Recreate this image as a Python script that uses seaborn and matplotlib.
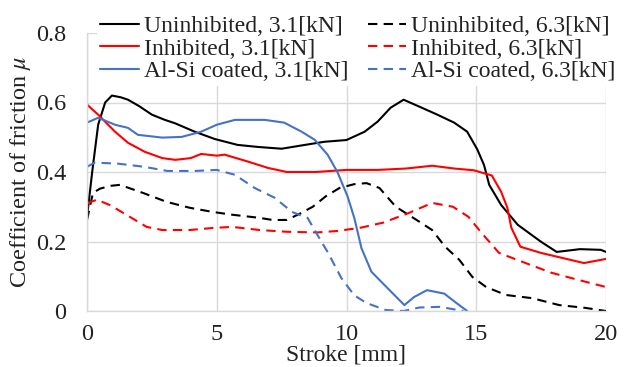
import numpy as np
import pandas as pd
import matplotlib
matplotlib.use("Agg")
import matplotlib.pyplot as plt
import seaborn as sns

# ---- data ----
un31_x = [0.0, 0.2, 0.43, 0.7, 0.96, 1.3, 1.58, 2.0, 2.5, 3.0, 3.4, 4.15, 4.92, 5.8, 6.6, 7.5, 8.4, 9.15, 10.0,
          10.7, 11.2, 11.7, 12.2, 12.9, 13.5, 14.15, 14.65, 15.04, 15.3, 15.5, 15.96, 16.6, 17.5, 18.1, 19.0, 19.8, 20.0]
un31_y = [0.27, 0.40, 0.536, 0.60, 0.62, 0.615, 0.608, 0.59, 0.565, 0.55, 0.54, 0.516, 0.495, 0.478, 0.472, 0.467, 0.478, 0.487, 0.492,
          0.516, 0.545, 0.585, 0.608, 0.585, 0.565, 0.542, 0.516, 0.465, 0.42, 0.363, 0.305, 0.248, 0.199, 0.17, 0.178, 0.176, 0.17]

in31_x = [0.0, 0.43, 1.08, 1.58, 2.23, 2.9, 3.4, 4.0, 4.4, 5.0, 5.3, 6.2, 6.96, 7.7, 8.8, 10.0, 11.2, 12.3, 13.3, 14.15, 14.9,
          15.6, 15.96, 16.2, 16.35, 16.7, 17.5, 18.3, 19.15, 19.8, 20.0]
in31_y = [0.594, 0.565, 0.516, 0.484, 0.458, 0.44, 0.435, 0.44, 0.452, 0.447, 0.45, 0.43, 0.412, 0.40, 0.40, 0.406, 0.406, 0.41, 0.418, 0.41, 0.405,
          0.39, 0.343, 0.297, 0.24, 0.185, 0.167, 0.153, 0.138, 0.147, 0.15]

al31_x = [0.0, 0.43, 1.08, 1.58, 1.96, 2.9, 3.65, 4.4, 5.0, 5.7, 6.85, 7.6, 8.27, 8.77, 9.27, 9.65, 10.04, 10.3, 10.58, 10.96, 11.46,
          12.23, 12.6, 13.1, 13.77, 14.2, 14.65]
al31_y = [0.542, 0.556, 0.536, 0.527, 0.507, 0.499, 0.501, 0.516, 0.536, 0.55, 0.55, 0.542, 0.516, 0.493, 0.45, 0.40, 0.33, 0.268, 0.18, 0.113, 0.075,
          0.017, 0.04, 0.06, 0.05, 0.025, 0.0]

un63_x = [0.0, 0.23, 0.5, 0.88, 1.27, 2.15, 3.07, 3.96, 4.85, 5.6, 6.65, 7.15, 7.7, 8.2, 8.7, 9.2, 9.73, 10.3, 10.77, 11.27, 11.9, 12.7, 13.3,
          13.8, 14.35, 14.85, 15.38, 16.15, 17.15, 18.2, 19.2, 20.0]
un63_y = [0.262, 0.34, 0.352, 0.36, 0.363, 0.34, 0.314, 0.297, 0.285, 0.277, 0.268, 0.262, 0.262, 0.28, 0.30, 0.33, 0.354, 0.365, 0.368, 0.354, 0.30, 0.262, 0.233,
          0.185, 0.147, 0.098, 0.069, 0.046, 0.037, 0.017, 0.009, 0.0]

in63_x = [0.0, 0.38, 0.88, 1.65, 2.3, 2.9, 3.96, 4.85, 5.6, 6.65, 7.7, 8.85, 9.6, 10.5, 11.4, 12.4, 13.3, 14.1, 14.7, 15.2, 15.88, 16.9, 17.9, 18.96, 20.0]
in63_y = [0.31, 0.32, 0.305, 0.271, 0.242, 0.233, 0.233, 0.239, 0.242, 0.233, 0.228, 0.226, 0.23, 0.239, 0.254, 0.282, 0.311, 0.30, 0.271, 0.225, 0.167, 0.138, 0.11, 0.089, 0.069]

al63_x = [0.0, 0.3, 1.2, 2.2, 3.1, 4.15, 5.0, 5.7, 6.46, 7.23, 7.9, 8.5, 8.88, 9.27, 9.8, 10.3, 10.77, 11.5, 12.2, 12.8, 13.6, 14.5]
al63_y = [0.415, 0.427, 0.424, 0.415, 0.403, 0.403, 0.406, 0.392, 0.354, 0.326, 0.285, 0.268, 0.219, 0.17, 0.095, 0.045, 0.023, 0.003, 0.0, 0.01, 0.012, 0.0]

labels = ["Uninhibited, 3.1[kN]", "Inhibited, 3.1[kN]", "Al-Si coated, 3.1[kN]",
          "Uninhibited, 6.3[kN]", "Inhibited, 6.3[kN]", "Al-Si coated, 6.3[kN]"]
xs = [un31_x, in31_x, al31_x, un63_x, in63_x, al63_x]
ys = [un31_y, in31_y, al31_y, un63_y, in63_y, al63_y]
colors = ["#000000", "#ff0000", "#4472c4", "#000000", "#ff0000", "#4472c4"]
dashed = [False, False, False, True, True, True]

x_ticks = [0, 5, 10, 15, 20]
y_ticks = [0, 0.2, 0.4, 0.6, 0.8]
y_tick_labels = ["0", "0.2", "0.4", "0.6", "0.8"]

# ---- plot ----
sns.set_theme(style="white")
plt.rcParams["font.family"] = ["Liberation Serif", "DejaVu Serif"]
plt.rcParams["mathtext.fontset"] = "stix"

fig = plt.figure(figsize=(6.34, 3.67), dpi=100)
ax = fig.add_axes([87 / 634, (367 - 311) / 367, (606 - 87) / 634, (311 - 33) / 367])

for lab, x, y, c, d in zip(labels, xs, ys, colors, dashed):
    df = pd.DataFrame({"x": x, "y": y})
    sns.lineplot(data=df, x="x", y="y", ax=ax, color=c, lw=1.5, label=lab, sort=False,
                 linestyle=(0, (4.5, 3)) if d else "-")

ax.set_xlim(0, 20)
ax.set_ylim(0, 0.8)
ax.set_xticks(x_ticks)
ax.set_xticklabels([str(t) for t in x_ticks])
ax.set_yticks(y_ticks)
ax.set_yticklabels(y_tick_labels)
ax.tick_params(axis="both", length=0, labelsize=17.5, colors="#222222")
ax.tick_params(axis="y", pad=15)
ax.tick_params(axis="x", pad=9)
ax.grid(True, color="#d9d9d9", lw=1.0)
ax.set_axisbelow(True)
for s in ["top", "right"]:
    ax.spines[s].set_visible(False)
for s in ["left", "bottom"]:
    ax.spines[s].set_color("#d9d9d9")
    ax.spines[s].set_linewidth(1.0)

ax.set_xlabel("Stroke [mm]", fontsize=17, color="#222222", labelpad=0)
ax.set_ylabel("Coefficient of friction $\\mu$", fontsize=17.5, color="#222222", labelpad=2)

h, l = ax.get_legend_handles_labels()
if ax.get_legend():
    ax.get_legend().remove()
leg = fig.legend(h, l, ncol=2,
                 loc="upper center", bbox_to_anchor=(358 / 634, 1.0),
                 fontsize=17, frameon=True, framealpha=1, facecolor="white", edgecolor="none",
                 handlelength=1.65, handletextpad=0.2, columnspacing=0.8, labelspacing=0.05,
                 borderpad=0.15, fancybox=False)
for t in leg.get_texts():
    t.set_color("#222222")

fig.savefig("out.png", dpi=100)
